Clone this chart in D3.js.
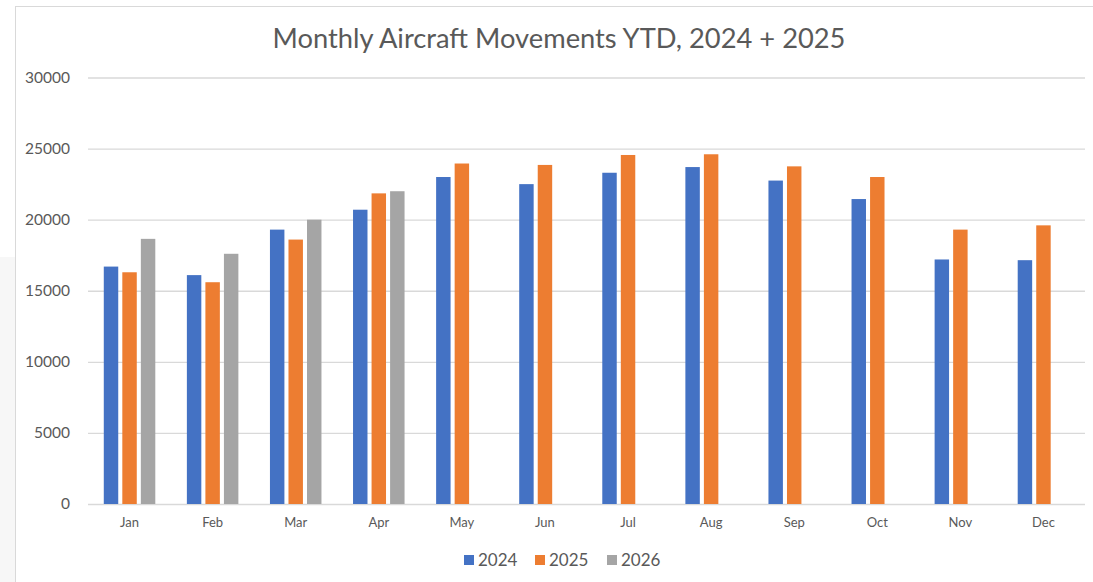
<!DOCTYPE html>
<html>
<head>
<meta charset="utf-8">
<script src="https://cdn.jsdelivr.net/npm/d3@7"></script>
<style>
  body { margin: 0; background: #fff; }
  svg { display: block; font-family: Lato, "Open Sans", sans-serif; }
</style>
</head>
<body>
<svg width="1093" height="582"></svg>
<script>
var months = ["Jan", "Feb", "Mar", "Apr", "May", "Jun", "Jul", "Aug", "Sep", "Oct", "Nov", "Dec"];
var years = ["2024", "2025", "2026"];
var values2024 = [16700, 16100, 19300, 20700, 23000, 22500, 23300, 23700, 22750, 21450, 17200, 17150];
var values2025 = [16300, 15600, 18600, 21850, 23950, 23850, 24550, 24600, 23750, 23000, 19300, 19600];
var values2026 = [18650, 17600, 20000, 22000, null, null, null, null, null, null, null, null];
var yTicks = [0, 5000, 10000, 15000, 20000, 25000, 30000];
var colors = ["#4472c4", "#ed7d31", "#a5a5a5"];
var title = "Monthly Aircraft Movements YTD, 2024 + 2025";

var svg = d3.select("svg"),
    width = +svg.attr("width"),
    height = +svg.attr("height");

var series = [values2024, values2025, values2026];

// page background outside the chart
svg.append("rect").attr("x", 0).attr("y", 257).attr("width", 15).attr("height", height - 257).attr("fill", "#f7f7f7");

// chart border (top + left)
svg.append("line").attr("x1", 15).attr("x2", width).attr("y1", 6.5).attr("y2", 6.5).attr("stroke", "#d9d9d9");
svg.append("line").attr("x1", 15.5).attr("x2", 15.5).attr("y1", 6).attr("y2", height).attr("stroke", "#d9d9d9");

var x = d3.scaleBand()
    .domain(months)
    .range([88, 1085])
    .paddingInner(0.38)
    .paddingOuter(0.19);

var xSub = d3.scaleBand()
    .domain(years)
    .range([0, x.bandwidth()])
    .paddingInner(0.22);

var y = d3.scaleLinear()
    .domain([0, 30000])
    .range([504, 77.5]);

// gridlines + y labels
var yAxis = svg.append("g")
    .attr("transform", "translate(88,0)")
    .call(d3.axisLeft(y).tickValues(yTicks).tickSize(-(1085 - 88)).tickFormat(d3.format("d")));
yAxis.select(".domain").remove();
yAxis.selectAll(".tick line").attr("stroke", "#d9d9d9").attr("stroke-width", 1.3);
yAxis.selectAll(".tick text").attr("fill", "#595959").attr("font-size", 15.5).attr("font-family", "Lato, sans-serif").attr("x", -18);

// bars
var groups = svg.append("g").selectAll("g")
    .data(years)
    .enter().append("g")
    .attr("fill", function (d, i) { return colors[i]; });

groups.selectAll("rect")
    .data(function (d, i) {
        return months.map(function (m, j) { return { month: m, year: d, value: series[i][j] }; })
            .filter(function (e) { return e.value != null; });
    })
    .enter().append("rect")
    .attr("x", function (d) { return x(d.month) + xSub(d.year); })
    .attr("width", xSub.bandwidth())
    .attr("y", function (d) { return y(d.value); })
    .attr("height", function (d) { return y(0) - y(d.value); });

// month labels
var xAxis = svg.append("g")
    .attr("transform", "translate(0,504)")
    .call(d3.axisBottom(x).tickSize(0).tickPadding(14));
xAxis.select(".domain").remove();
xAxis.selectAll(".tick text").attr("fill", "#595959").attr("font-size", 13).attr("font-family", "Lato, sans-serif");

// title
svg.append("text")
    .attr("x", 559)
    .attr("y", 48)
    .attr("text-anchor", "middle")
    .attr("fill", "#595959")
    .attr("font-size", 27.3)
    .text(title);

// legend
var legendX = [464, 535, 607];
var legend = svg.append("g").selectAll("g")
    .data(years)
    .enter().append("g")
    .attr("transform", function (d, i) { return "translate(" + legendX[i] + ",560)"; });
legend.append("rect")
    .attr("x", 0).attr("y", -5).attr("width", 10).attr("height", 10)
    .attr("fill", function (d, i) { return colors[i]; });
legend.append("text")
    .attr("x", 14)
    .attr("y", 6)
    .attr("fill", "#595959")
    .attr("font-size", 17)
    .text(function (d) { return d; });
</script>
</body>
</html>
